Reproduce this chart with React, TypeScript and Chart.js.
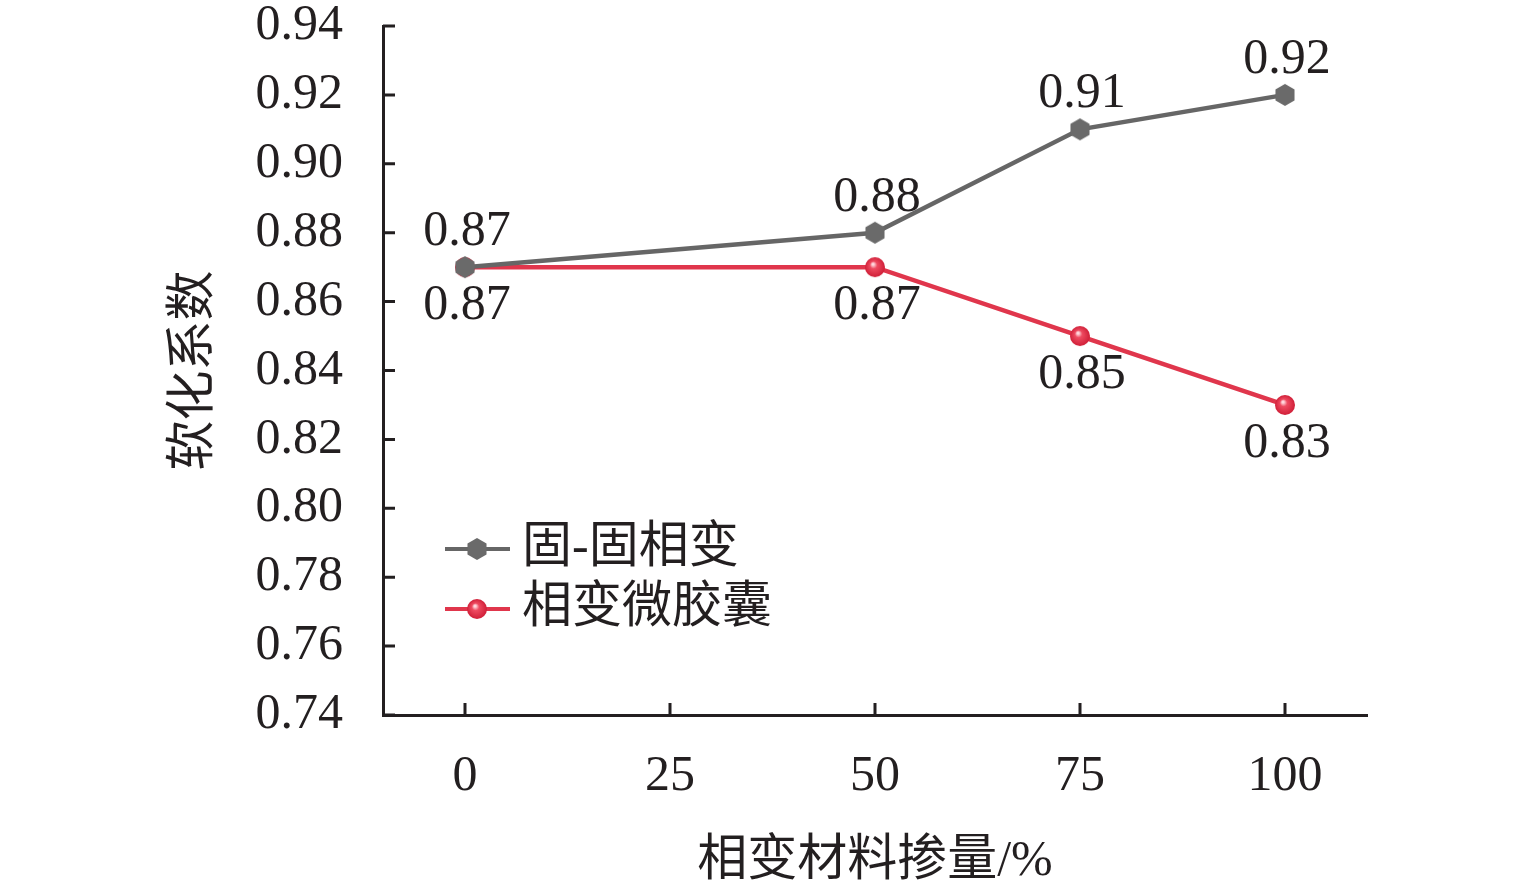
import { useEffect, useRef } from "react"
import { Chart, registerables } from "chart.js"

Chart.register(...registerables)

const dosage = [0, 50, 75, 100]
const solidSolid = [0.87, 0.88, 0.91, 0.92]
const microcapsule = [0.87, 0.87, 0.85, 0.83]
const seriesNames = ["固-固相变", "相变微胶囊"]
const xTicks = [0, 25, 50, 75, 100]
const yTicks = [0.74, 0.76, 0.78, 0.8, 0.82, 0.84, 0.86, 0.88, 0.9, 0.92, 0.94]

const FONT = "'Liberation Serif', 'Noto Sans CJK SC', serif"
const FS = 50
const INK = "#231f20"
const GRAY = "#666666"
const RED = "#e0364c"

function hexagonMarker(): HTMLCanvasElement {
  const c = document.createElement("canvas")
  c.width = 24
  c.height = 24
  const ctx = c.getContext("2d")!
  ctx.fillStyle = "#6a6a6a"
  ctx.beginPath()
  for (let i = 0; i < 6; i++) {
    const a = Math.PI / 2 + (i * Math.PI) / 3
    const px = 12 + 11 * Math.cos(a)
    const py = 12 + 11 * Math.sin(a)
    if (i === 0) ctx.moveTo(px, py)
    else ctx.lineTo(px, py)
  }
  ctx.closePath()
  ctx.fill()
  return c
}

function ballMarker(): HTMLCanvasElement {
  const c = document.createElement("canvas")
  c.width = 22
  c.height = 22
  const ctx = c.getContext("2d")!
  const g = ctx.createRadialGradient(9, 8, 1, 11, 11, 10)
  g.addColorStop(0, "#ffd6dc")
  g.addColorStop(0.3, "#ee4a60")
  g.addColorStop(1, "#d01f38")
  ctx.fillStyle = g
  ctx.beginPath()
  ctx.arc(11, 11, 10, 0, Math.PI * 2)
  ctx.fill()
  return c
}

export default function App() {
  const chartRef = useRef<HTMLCanvasElement | null>(null)
  const chartInstance = useRef<Chart | null>(null)

  useEffect(() => {
    document.body.style.margin = "0"
    if (!chartRef.current) return
    const ctx = chartRef.current.getContext("2d")
    if (!ctx) return
    if (chartInstance.current) chartInstance.current.destroy()

    const markers = [hexagonMarker(), ballMarker()]

    // inward tick marks on both axes
    const innerTicks = {
      id: "innerTicks",
      afterDatasetsDraw(chart: any) {
        const { ctx, scales } = chart
        const xs = scales.x
        const ys = scales.y
        ctx.save()
        ctx.strokeStyle = INK
        ctx.lineWidth = 3
        ctx.beginPath()
        yTicks.forEach((v) => {
          const py = ys.getPixelForValue(v)
          ctx.moveTo(xs.left, py)
          ctx.lineTo(xs.left + 12, py)
        })
        xTicks.forEach((v) => {
          const px = xs.getPixelForValue(v)
          ctx.moveTo(px, ys.bottom)
          ctx.lineTo(px, ys.bottom - 12)
        })
        ctx.stroke()
        ctx.restore()
      },
    }

    // value labels: grey above, red below
    const valueLabels = {
      id: "valueLabels",
      afterDatasetsDraw(chart: any) {
        const c = chart.ctx
        c.save()
        c.font = `${FS}px ${FONT}`
        c.fillStyle = INK
        c.textAlign = "center"
        c.textBaseline = "middle"
        chart.data.datasets.forEach((ds: any, di: number) => {
          const meta = chart.getDatasetMeta(di)
          meta.data.forEach((pt: any, i: number) => {
            const v = ds.data[i].y as number
            const dy = di === 0 ? -35 : 39
            c.fillText(v.toFixed(2), pt.x + 2, pt.y + dy)
          })
        })
        c.restore()
      },
    }

    // legend inside plot area
    const innerLegend = {
      id: "innerLegend",
      afterDraw(chart: any) {
        const c = chart.ctx
        c.save()
        chart.data.datasets.forEach((ds: any, i: number) => {
          const y = 549 + i * 60
          c.strokeStyle = ds.borderColor
          c.lineWidth = 4
          c.beginPath()
          c.moveTo(445, y)
          c.lineTo(510, y)
          c.stroke()
          const m = markers[i]
          c.drawImage(m, 477 - m.width / 2, y - m.height / 2)
          c.font = `${FS}px ${FONT}`
          c.fillStyle = INK
          c.textAlign = "left"
          c.textBaseline = "middle"
          c.fillText(ds.label, 522, y)
        })
        c.restore()
      },
    }

    chartInstance.current = new Chart(ctx, {
      type: "line",
      data: {
        datasets: [
          {
            label: seriesNames[0],
            data: dosage.map((x, i) => ({ x, y: solidSolid[i] })),
            borderColor: GRAY,
            borderWidth: 4.5,
            pointStyle: markers[0],
            pointRadius: 11,
          },
          {
            label: seriesNames[1],
            data: dosage.map((x, i) => ({ x, y: microcapsule[i] })),
            borderColor: RED,
            borderWidth: 4.5,
            pointStyle: markers[1],
            pointRadius: 10,
          },
        ],
      },
      options: {
        animation: false,
        responsive: false,
        devicePixelRatio: 1,
        layout: { padding: { left: 0, top: 26, right: 168, bottom: 0 } },
        plugins: {
          legend: { display: false },
          tooltip: { enabled: false },
        },
        scales: {
          x: {
            type: "linear",
            min: -10,
            max: 110,
            afterBuildTicks: (scale: any) => {
              scale.ticks = xTicks.map((value) => ({ value }))
            },
            afterFit: (scale: any) => {
              scale.height = 178
              scale.paddingLeft = 0
              scale.paddingRight = 0
            },
            grid: { display: false, drawTicks: false },
            border: { display: true, color: INK, width: 3 },
            ticks: {
              padding: 32,
              color: INK,
              font: { family: FONT, size: FS },
              maxRotation: 0,
            },
            title: {
              display: true,
              text: "相变材料掺量/%",
              color: INK,
              font: { family: FONT, size: FS },
              padding: { top: 0, bottom: 1 },
            },
          },
          y: {
            type: "linear",
            min: 0.74,
            max: 0.94,
            afterBuildTicks: (scale: any) => {
              scale.ticks = yTicks.map((value) => ({ value }))
            },
            afterFit: (scale: any) => {
              scale.width = 383
              scale.paddingTop = 0
              scale.paddingBottom = 0
            },
            grid: { display: false, drawTicks: false },
            border: { display: true, color: INK, width: 3 },
            ticks: {
              padding: 40,
              color: INK,
              font: { family: FONT, size: FS },
              callback: (v: any) => Number(v).toFixed(2),
            },
            title: {
              display: true,
              text: "软化系数",
              color: INK,
              font: { family: FONT, size: FS },
              padding: { top: 165, bottom: 0 },
            },
          },
        },
      },
      plugins: [innerTicks, valueLabels, innerLegend],
    } as any)

    return () => {
      if (chartInstance.current) {
        chartInstance.current.destroy()
        chartInstance.current = null
      }
    }
  }, [])

  return (
    <div style={{ width: 1535, height: 893, background: "#fff" }}>
      <canvas ref={chartRef} width={1535} height={893} />
    </div>
  )
}
